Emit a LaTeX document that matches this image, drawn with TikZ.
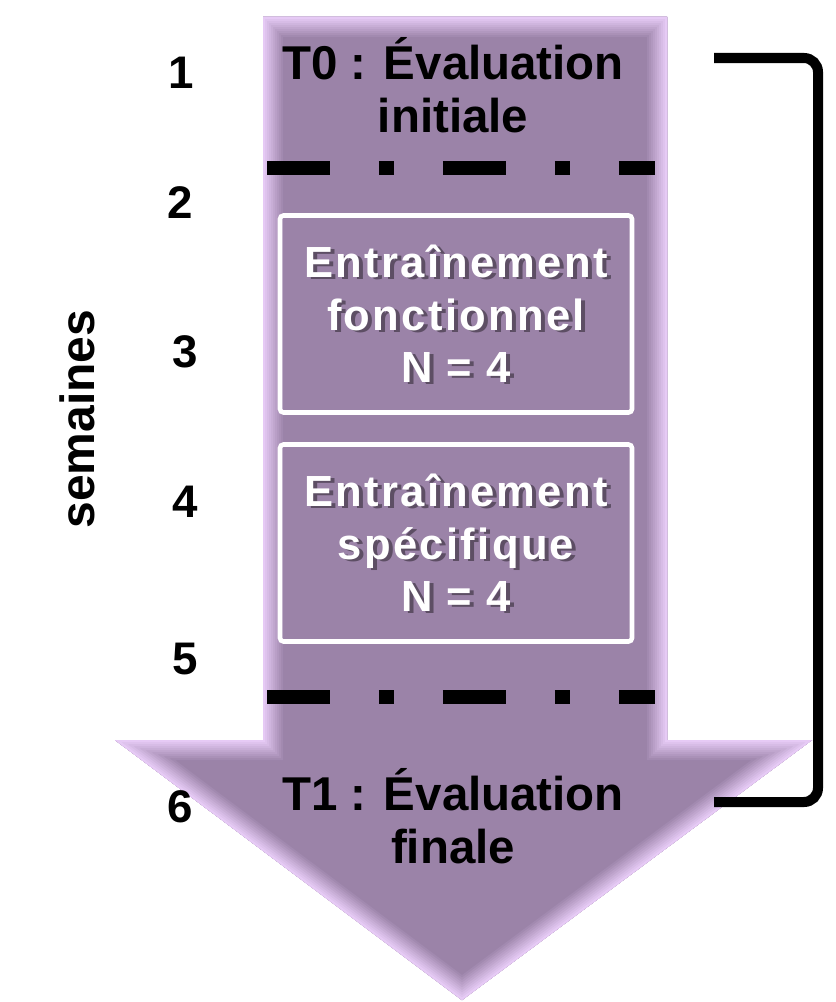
\documentclass[tikz,border=0pt]{standalone}
\usepackage{fontspec}
\setmainfont{Liberation Sans}
\newfontfamily\boxfont[LetterSpace=5.3]{Liberation Sans}
\definecolor{arrowfill}{RGB}{155,131,168}
\definecolor{arrowedge}{RGB}{230,202,245}
\newcommand\arrowpath{(263,17) -- (667,17) -- (667,740) -- (812,740) -- (462,1000) -- (115,740) -- (263,740) -- cycle}
\begin{document}
\begin{tikzpicture}[
  x=0.2mm, y=-0.2mm,
  week/.style={font=\fontsize{26}{30}\selectfont\bfseries, inner sep=0pt},
  evaltext/.style={font=\fontsize{27}{30}\selectfont\bfseries, align=center, inner sep=0pt},
  stepbox/.style={draw=white, line width=2.6pt, rounded corners=2pt, minimum width=70.4mm, minimum height=39.4mm,
    text=white, font=\boxfont\fontsize{24.8}{30}\selectfont\bfseries, align=center, inner sep=0pt},
  boxshadow/.style={text=black, opacity=0.4, font=\boxfont\fontsize{24.8}{30}\selectfont\bfseries, align=center, inner sep=0pt},
  sepline/.style={line width=8.5pt, dash pattern=on 35.8pt off 27.9pt on 8.5pt off 27.9pt},
  bracket/.style={line width=5.7pt, rounded corners=8pt}
]
\useasboundingbox (0,0) rectangle (835,1002);
\fill[arrowfill] \arrowpath;
\begin{scope}
  \clip \arrowpath;
  \foreach \i in {0,...,10} {
    \pgfmathsetmacro\w{(44-4*\i)*0.569}
    \pgfmathtruncatemacro\pct{10*\i}
    \draw[line width=\w pt, color=arrowedge!\pct!arrowfill] \arrowpath;
  }
\end{scope}

\node[evaltext] (t0) at (453,85) {T0 : Évaluation\\initiale};
\node[evaltext] (t1) at (453,816) {T1 : Évaluation\\finale};

\coordinate (sepa-l) at (267,168);
\coordinate (sepa-r) at (655,168);
\coordinate (sepb-l) at (267,697);
\coordinate (sepb-r) at (655,697);
\draw[sepline] (sepa-l) -- (sepa-r);
\draw[sepline] (sepb-l) -- (sepb-r);

\node[boxshadow] at (460,316) {Entraînement\\fonctionnel\\N = 4};
\node[stepbox] (fonct) at (456,314) {Entraînement\\fonctionnel\\N = 4};
\node[boxshadow] at (460,545) {Entraînement\\spécifique\\N = 4};
\node[stepbox] (specif) at (456,543) {Entraînement\\spécifique\\N = 4};

\node[week] (w1) at (181,73) {1};
\node[week] (w2) at (180,203) {2};
\node[week] (w3) at (185,352) {3};
\node[week] (w4) at (185,502) {4};
\node[week] (w5) at (185,659) {5};
\node[week] (w6) at (180,807) {6};
\node[week, font=\fontsize{27.3}{30}\selectfont\bfseries, rotate=90] (sem) at (77,419) {semaines};

\coordinate (brtop) at (714,58);
\coordinate (brbot) at (714,802);
\draw[bracket] (brtop) -- (818,58) -- (818,802) -- (brbot);
\end{tikzpicture}
\end{document}
